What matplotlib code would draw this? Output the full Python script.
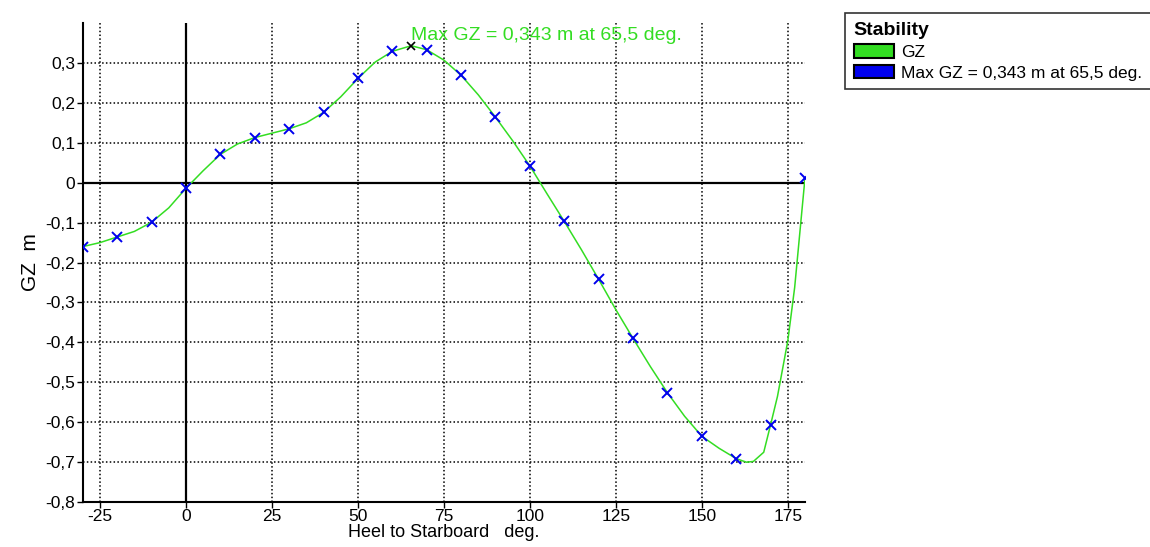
import numpy as np
import matplotlib.pyplot as plt
import matplotlib.patches as patches
import matplotlib.ticker as mticker

plt.rcParams['font.family'] = ['Liberation Sans', 'DejaVu Sans']

# GZ values at the calculated heel angles (blue crosses)
heel_pts = [-30, -20, -10, 0, 10, 20, 30, 40, 50, 60, 70, 80, 90,
            100, 110, 120, 130, 140, 150, 160, 170, 180]
gz_pts = [-0.160, -0.136, -0.099, -0.014, 0.071, 0.113, 0.135, 0.176, 0.261, 0.329, 0.333, 0.269, 0.164,
          0.042, -0.097, -0.242, -0.390, -0.526, -0.635, -0.691, -0.606, 0.012]

# GZ curve read at finer spacing
heel_curve = [-30, -25, -20, -15, -10, -5, 0, 5, 10, 15, 20, 25, 30, 35, 40, 45, 50, 55, 60, 65.5,
              70, 75, 80, 85, 90, 95, 100, 105, 110, 115, 120, 125, 130, 135, 140, 145, 150,
              155, 160, 163, 165, 168, 170, 172, 175, 177, 178.5, 180]
gz_curve = [-0.160, -0.150, -0.136, -0.122, -0.099, -0.063, -0.014, 0.030, 0.071, 0.097, 0.113, 0.124,
            0.135, 0.150, 0.176, 0.215, 0.261, 0.302, 0.329, 0.343,
            0.333, 0.307, 0.269, 0.220, 0.164, 0.105, 0.042, -0.028, -0.097, -0.168, -0.242, -0.318,
            -0.390, -0.460, -0.526, -0.585, -0.635, -0.665, -0.691, -0.700, -0.698, -0.675, -0.606,
            -0.535, -0.396, -0.262, -0.125, 0.012]

max_heel = 65.5
max_gz = 0.343
max_label = "Max GZ = 0,343 m at 65,5 deg."

xticks = [-25, 0, 25, 50, 75, 100, 125, 150, 175]
yticks = [-0.8, -0.7, -0.6, -0.5, -0.4, -0.3, -0.2, -0.1, 0, 0.1, 0.2, 0.3]

green = '#33dd22'

fig = plt.figure(figsize=(11.5, 5.47), dpi=100)
ax = fig.add_axes([0.072, 0.082, 0.628, 0.876])

ax.plot(heel_curve, gz_curve, color=green, lw=1.1, zorder=3)
ax.plot(heel_pts, gz_pts, ls='none', marker='x', color='#0000ee', ms=6.5, mew=1.4, zorder=4)
ax.plot([max_heel], [max_gz], ls='none', marker='x', color='black', ms=6, mew=1.2, zorder=5)
ax.text(max_heel, 0.368, max_label, color=green, fontsize=14, va='center', ha='left')

ax.set_xlim(-30, 180)
ax.set_ylim(-0.8, 0.4)
ax.set_xticks(xticks)
ax.set_yticks(yticks)
ax.xaxis.set_major_formatter(mticker.FuncFormatter(lambda v, p: f"{v:g}"))
ax.yaxis.set_major_formatter(mticker.FuncFormatter(
    lambda v, p: "0" if abs(v) < 1e-9 else f"{v:.1f}".replace('.', ',')))
ax.tick_params(labelsize=12.5, length=4, width=1, color='black')
ax.tick_params(axis='x', pad=1)
ax.tick_params(axis='y', pad=1.5)

ax.grid(True, color='black', ls=(0, (1, 1.5)), lw=1.1)
ax.axhline(0, color='black', lw=1.6, zorder=2)
ax.axvline(0, color='black', lw=1.6, zorder=2)
for s in ['top', 'right']:
    ax.spines[s].set_visible(False)
ax.spines['left'].set_linewidth(1.5)
ax.spines['bottom'].set_linewidth(1.5)

ax.set_ylabel("GZ  m", fontsize=15, labelpad=4)
ax.set_xlabel("Heel to Starboard   deg.", fontsize=13, labelpad=0)

# legend box
handles = [patches.Patch(facecolor=green, edgecolor='black', lw=1.5, label='GZ'),
           patches.Patch(facecolor='#0000ee', edgecolor='black', lw=1.5, label=max_label)]
leg = fig.legend(handles=handles, title='Stability', loc='upper left', bbox_to_anchor=(845 / 1150, 1 - 13 / 547),
                 fontsize=12.5, title_fontproperties={'weight': 'bold', 'size': 14},
                 frameon=True, fancybox=False, edgecolor='black', handlelength=2.3, handleheight=0.8,
                 handletextpad=0.45, labelspacing=0.3, borderpad=0.5, borderaxespad=0)
leg._legend_box.align = 'left'
leg._legend_box.sep = 4
leg.get_frame().set_linewidth(1.2)

fig.savefig('out.png', dpi=100)
